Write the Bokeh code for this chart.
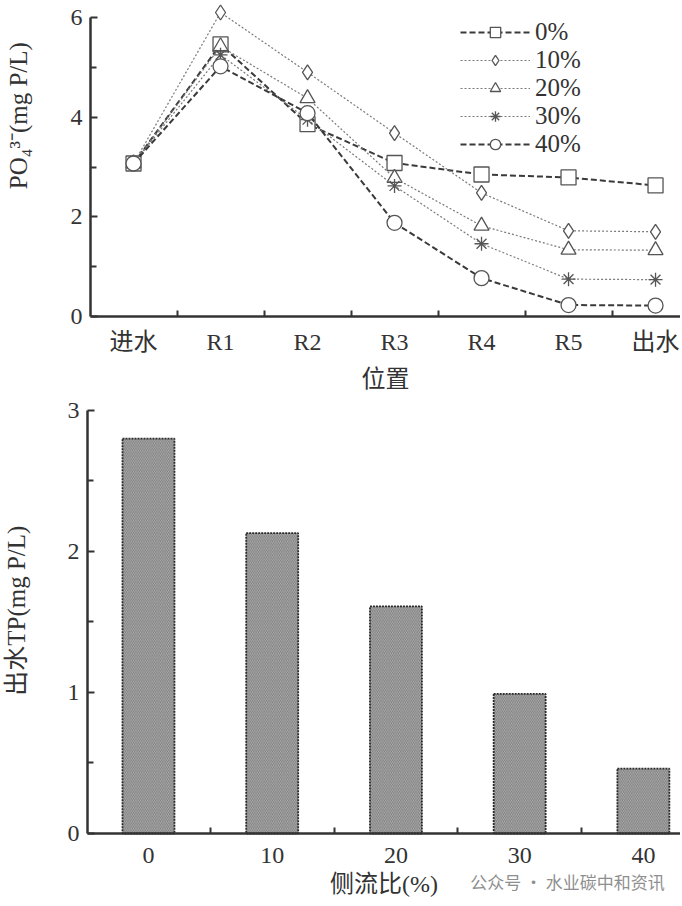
import math
from bokeh.plotting import figure
from bokeh.models import FixedTicker, Range1d, Legend, LegendItem, Label
from bokeh.layouts import column
from bokeh.embed import file_html
from bokeh.resources import INLINE

# ---- data ----
positions = ["进水", "R1", "R2", "R3", "R4", "R5", "出水"]
po4_0 = [3.07, 5.46, 3.86, 3.08, 2.85, 2.79, 2.63]
po4_10 = [3.07, 6.10, 4.90, 3.68, 2.48, 1.72, 1.70]
po4_20 = [3.07, 5.42, 4.38, 2.78, 1.82, 1.34, 1.33]
po4_30 = [3.07, 5.25, 3.95, 2.62, 1.46, 0.75, 0.74]
po4_40 = [3.07, 5.02, 4.08, 1.88, 0.77, 0.23, 0.22]
series_labels = ["0%", "10%", "20%", "30%", "40%"]
side_ratio = [0, 10, 20, 30, 40]
effluent_tp = [2.80, 2.13, 1.61, 0.99, 0.46]

SERIF = "'Liberation Serif', 'Noto Sans CJK SC'"
DARK = "#333333"


def style_axes(p, xlabel_standoff, xaxis_label_standoff):
    for ax in (p.xaxis[0], p.yaxis[0]):
        ax.axis_line_color = DARK
        ax.axis_line_width = 2.5
        ax.major_tick_line_color = DARK
        ax.minor_tick_line_color = DARK
        ax.major_tick_line_width = 2
        ax.minor_tick_line_width = 2
        ax.minor_tick_in = 6
        ax.minor_tick_out = 0
        ax.major_label_text_font = SERIF
        ax.major_label_text_font_size = "24px"
        ax.major_label_text_color = DARK
        ax.axis_label_text_font = SERIF
        ax.axis_label_text_font_size = "24px"
        ax.axis_label_text_font_style = "normal"
        ax.axis_label_text_color = DARK
    p.yaxis.major_tick_in = 7
    p.yaxis.major_tick_out = 0
    p.yaxis.major_label_standoff = 8
    p.xaxis.major_tick_in = 0
    p.xaxis.major_tick_out = 0
    p.xaxis.major_label_standoff = xlabel_standoff
    p.xaxis.axis_label_standoff = xaxis_label_standoff


# ---- top chart ----
p1 = figure(width=680, height=395, output_backend="svg", toolbar_location=None,
            x_range=Range1d(-1.529, 6.287), y_range=Range1d(-1.585, 6.341),
            min_border=0)
p1.outline_line_color = None
p1.grid.visible = False

series = [po4_0, po4_10, po4_20, po4_30, po4_40]
markers = ["square", "diamond", "triangle", "asterisk", "circle"]
dashes = ["6 3", "2 2", "2 2", "2 2", "6 3"]
lwidths = [2.0, 1.2, 1.2, 1.2, 2.0]
lcolors = ["#3a3a3a", "#7a7a7a", "#7a7a7a", "#7a7a7a", "#3a3a3a"]
msizes = [15, 15, 15, 14, 15]
xs = list(range(len(positions)))
items = []
for vals, lab, mk, ds, lw, lc, ms in zip(series, series_labels, markers, dashes, lwidths, lcolors, msizes):
    r_line = p1.line(xs, vals, line_color=lc, line_width=lw, line_dash=ds)
    r_pt = p1.scatter(xs, vals, marker=mk, size=ms, fill_color="white",
                      line_color="#555555", line_width=1.3)
    items.append(LegendItem(label=lab, renderers=[r_line, r_pt]))

legend = Legend(items=items, location=(460, 237), glyph_width=70, glyph_height=26,
                label_text_font=SERIF, label_text_font_size="25px", label_text_color=DARK,
                label_text_line_height=1.0, label_height=20,
                spacing=0, padding=0, margin=0, label_standoff=5,
                background_fill_alpha=0, border_line_alpha=0)
p1.add_layout(legend)

p1.yaxis.ticker = FixedTicker(ticks=[0, 2, 4, 6], minor_ticks=[1, 3, 5])
p1.yaxis.fixed_location = -0.494
p1.yaxis.bounds = (0, 6)
p1.xaxis.ticker = FixedTicker(ticks=xs, minor_ticks=[i + 0.5 for i in xs[:-1]])
p1.xaxis.major_label_overrides = {i: lab for i, lab in zip(xs, positions)}
p1.xaxis.fixed_location = 0
p1.xaxis.bounds = (-0.494, 6.287)
p1.xaxis.axis_label = "位置"
p1.add_layout(Label(x=-1.322, y=4.03, text="PO₄³⁻(mg P/L)", angle=math.pi / 2,
                    text_align="center", text_baseline="middle", text_font=SERIF,
                    text_font_size="25px", text_color=DARK))
style_axes(p1, 12, 8)

# ---- bottom chart ----
p2 = figure(width=680, height=503, output_backend="svg", toolbar_location=None,
            x_range=Range1d(-11.96, 43.0), y_range=Range1d(-0.461, 3.106),
            min_border=0)
p2.outline_line_color = None
p2.grid.visible = False
p2.vbar(x=side_ratio, top=effluent_tp, width=4.2, fill_color="#b2b2b2",
        hatch_pattern="\\", hatch_color="#666666", hatch_scale=3.5, hatch_weight=0.7,
        line_color="#2a2a2a", line_width=1.8, line_dash="2 1")
p2.yaxis.ticker = FixedTicker(ticks=[0, 1, 2, 3], minor_ticks=[0.5, 1.5, 2.5])
p2.yaxis.fixed_location = -4.93
p2.yaxis.bounds = (0, 3)
p2.xaxis.ticker = FixedTicker(ticks=side_ratio, minor_ticks=[5, 15, 25, 35])
p2.xaxis.fixed_location = 0
p2.xaxis.bounds = (-4.93, 43.0)
p2.xaxis.axis_label = "侧流比(%)"
p2.add_layout(Label(x=-10.67, y=1.58, text="出水TP(mg P/L)", angle=math.pi / 2,
                    text_align="center", text_baseline="middle", text_font=SERIF,
                    text_font_size="25px", text_color=DARK))
p2.add_layout(Label(x=26.0, y=-0.34, text="公众号 · 水业碳中和资讯", text_color="#8f8f8f",
                    text_font="'Noto Sans CJK SC'", text_font_size="17px",
                    text_baseline="middle"))
style_axes(p2, 15, 4)

layout = column(p1, p2, spacing=0)
open("out.html", "w").write(file_html(layout, INLINE))
